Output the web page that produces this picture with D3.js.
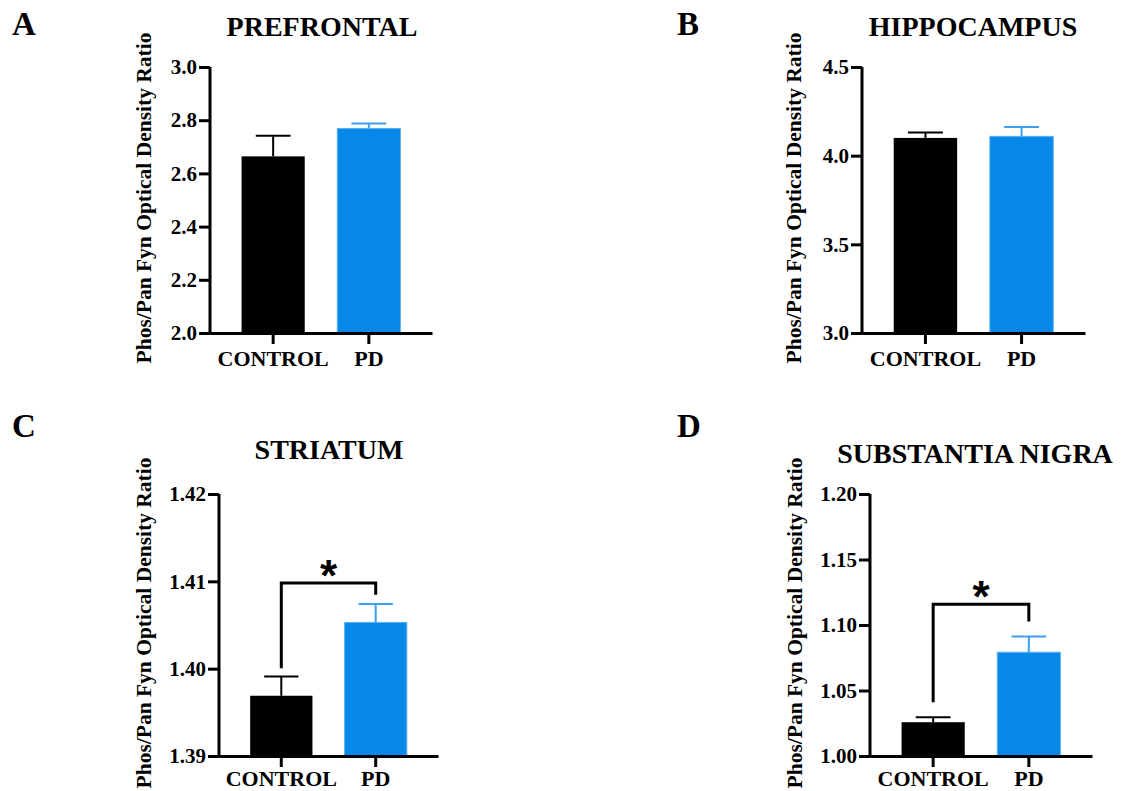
<!DOCTYPE html>
<html>
<head>
<meta charset="utf-8">
<script src="https://cdn.jsdelivr.net/npm/d3@7"></script>
<style>
  html, body { margin: 0; padding: 0; background: #fff; }
  svg { display: block; }
  text { font-family: "Liberation Serif", "Times New Roman", serif; font-weight: bold; fill: #000; }
</style>
</head>
<body>
<svg id="chart" width="1124" height="791"></svg>
<script>
// ---------- data ----------
const categories = ["CONTROL", "PD"];

const prefrontalMean = [2.664, 2.769];
const prefrontalSem  = [0.078, 0.019];
const prefrontalTicks = [2.0, 2.2, 2.4, 2.6, 2.8, 3.0];

const hippocampusMean = [4.100, 4.109];
const hippocampusSem  = [0.031, 0.053];
const hippocampusTicks = [3.0, 3.5, 4.0, 4.5];

const striatumMean = [1.3969, 1.4053];
const striatumSem  = [0.0022, 0.0021];
const striatumTicks = [1.39, 1.40, 1.41, 1.42];
const striatumBracket = [1.4098, 1.40005, 1.40846]; // bar height, left leg end, right leg end

const nigraMean = [1.0258, 1.0792];
const nigraSem  = [0.0038, 0.0120];
const nigraTicks = [1.00, 1.05, 1.10, 1.15, 1.20];
const nigraBracket = [1.1159, 1.041, 1.1026];

const panelLetters = ["A", "B", "C", "D"];
const panelTitles = ["PREFRONTAL", "HIPPOCAMPUS", "STRIATUM", "SUBSTANTIA NIGRA"];
const yLabel = "Phos/Pan Fyn Optical Density Ratio";

// ---------- layout ----------
const colors = ["#000000", "#0788e8"];
const errColors = ["#000000", "#3c9ff0"];

const panels = [
  { letter: panelLetters[0], title: panelTitles[0], mean: prefrontalMean, sem: prefrontalSem, ticks: prefrontalTicks, fmt: ".1f",
    domain: [2.0, 3.0], axisX: 210, axisEnd: 432, top: 67, bottom: 333, catPad: 6,
    titleX: 322, titleY: 36, letterX: 12, letterY: 35, labelX: 151 },
  { letter: panelLetters[1], title: panelTitles[1], mean: hippocampusMean, sem: hippocampusSem, ticks: hippocampusTicks, fmt: ".1f",
    domain: [3.0, 4.5], axisX: 862, axisEnd: 1085, top: 67, bottom: 333, catPad: 6,
    titleX: 973, titleY: 36, letterX: 677, letterY: 35, labelX: 801 },
  { letter: panelLetters[2], title: panelTitles[2], mean: striatumMean, sem: striatumSem, ticks: striatumTicks, fmt: ".2f",
    domain: [1.39, 1.42], axisX: 219, axisEnd: 438, top: 494, bottom: 756, catPad: 3,
    titleX: 329, titleY: 459, letterX: 12, letterY: 437, labelX: 151, bracket: striatumBracket },
  { letter: panelLetters[3], title: panelTitles[3], mean: nigraMean, sem: nigraSem, ticks: nigraTicks, fmt: ".2f",
    domain: [1.00, 1.20], axisX: 870, axisEnd: 1092, top: 494, bottom: 756, catPad: 3,
    titleX: 975, titleY: 463, letterX: 677, letterY: 437, labelX: 802, bracket: nigraBracket }
];

const svg = d3.select("#chart");

panels.forEach(p => {
  const g = svg.append("g");

  const x = d3.scaleBand().domain(categories).range([p.axisX, p.axisEnd])
    .paddingInner(0.34).paddingOuter(0.33);
  const y = d3.scaleLinear().domain(p.domain).range([p.bottom, p.top]);

  // letter & title
  g.append("text").attr("x", p.letterX).attr("y", p.letterY)
    .style("font-size", "33px").text(p.letter);
  g.append("text").attr("x", p.titleX).attr("y", p.titleY)
    .attr("text-anchor", "middle").style("font-size", "28px").text(p.title);

  // y label
  g.append("text")
    .attr("transform", `translate(${p.labelX},${(p.top + p.bottom) / 2 - 2}) rotate(-90)`)
    .attr("text-anchor", "middle").style("font-size", "21.5px").text(yLabel);

  // bars
  const data = categories.map((c, i) => ({ c, i, m: p.mean[i], s: p.sem[i] }));
  g.selectAll("rect.bar").data(data).join("rect")
    .attr("class", "bar")
    .attr("x", d => x(d.c)).attr("width", x.bandwidth())
    .attr("y", d => y(d.m)).attr("height", d => y(p.domain[0]) - y(d.m))
    .attr("fill", d => colors[d.i])
    .attr("stroke", d => d.i === 1 ? "#5cb2f2" : "none")
    .attr("stroke-width", 1);

  // error bars (upper only)
  const capW = x.bandwidth() * 0.55;
  const eb = g.selectAll("g.err").data(data).join("g").attr("class", "err");
  eb.append("line")
    .attr("x1", d => x(d.c) + x.bandwidth() / 2).attr("x2", d => x(d.c) + x.bandwidth() / 2)
    .attr("y1", d => y(d.m)).attr("y2", d => y(d.m + d.s))
    .attr("stroke", d => errColors[d.i]).attr("stroke-width", 2);
  eb.append("line")
    .attr("x1", d => x(d.c) + x.bandwidth() / 2 - capW / 2).attr("x2", d => x(d.c) + x.bandwidth() / 2 + capW / 2)
    .attr("y1", d => y(d.m + d.s)).attr("y2", d => y(d.m + d.s))
    .attr("stroke", d => errColors[d.i]).attr("stroke-width", 2);

  // axes
  const yAxis = g.append("g").attr("transform", `translate(${p.axisX},0)`)
    .call(d3.axisLeft(y).tickValues(p.ticks).tickFormat(d3.format(p.fmt)).tickSize(11).tickSizeOuter(0).tickPadding(2));
  const xAxis = g.append("g").attr("transform", `translate(0,${p.bottom})`)
    .call(d3.axisBottom(x).tickSize(11).tickSizeOuter(0).tickPadding(p.catPad));
  [yAxis, xAxis].forEach(a => {
    a.select(".domain").attr("stroke", "#000").attr("stroke-width", 3);
    a.selectAll(".tick line").attr("stroke", "#000").attr("stroke-width", 3);
    a.selectAll("text").attr("fill", "#000")
      .style("font-family", '"Liberation Serif", "Times New Roman", serif').style("font-weight", "bold");
  });
  yAxis.selectAll("text").style("font-size", "21px");
  xAxis.selectAll("text").style("font-size", "22px");
  // extend y domain line down to meet x axis at corner
  yAxis.select(".domain").attr("d", `M0,${p.top}V${p.bottom + 1.5}`);

  // significance bracket
  if (p.bracket) {
    const cx0 = x(categories[0]) + x.bandwidth() / 2;
    const cx1 = x(categories[1]) + x.bandwidth() / 2;
    const [by, l0, r0] = p.bracket;
    g.append("path")
      .attr("d", `M${cx0},${y(l0)}V${y(by)}H${cx1}V${y(r0)}`)
      .attr("fill", "none").attr("stroke", "#000").attr("stroke-width", 3);
    g.append("text")
      .attr("x", (cx0 + cx1) / 2).attr("y", y(by) + 8)
      .attr("text-anchor", "middle")
      .style("font-family", '"Liberation Sans", Arial, sans-serif')
      .style("font-size", "44px").text("*");
  }
});
</script>
</body>
</html>
